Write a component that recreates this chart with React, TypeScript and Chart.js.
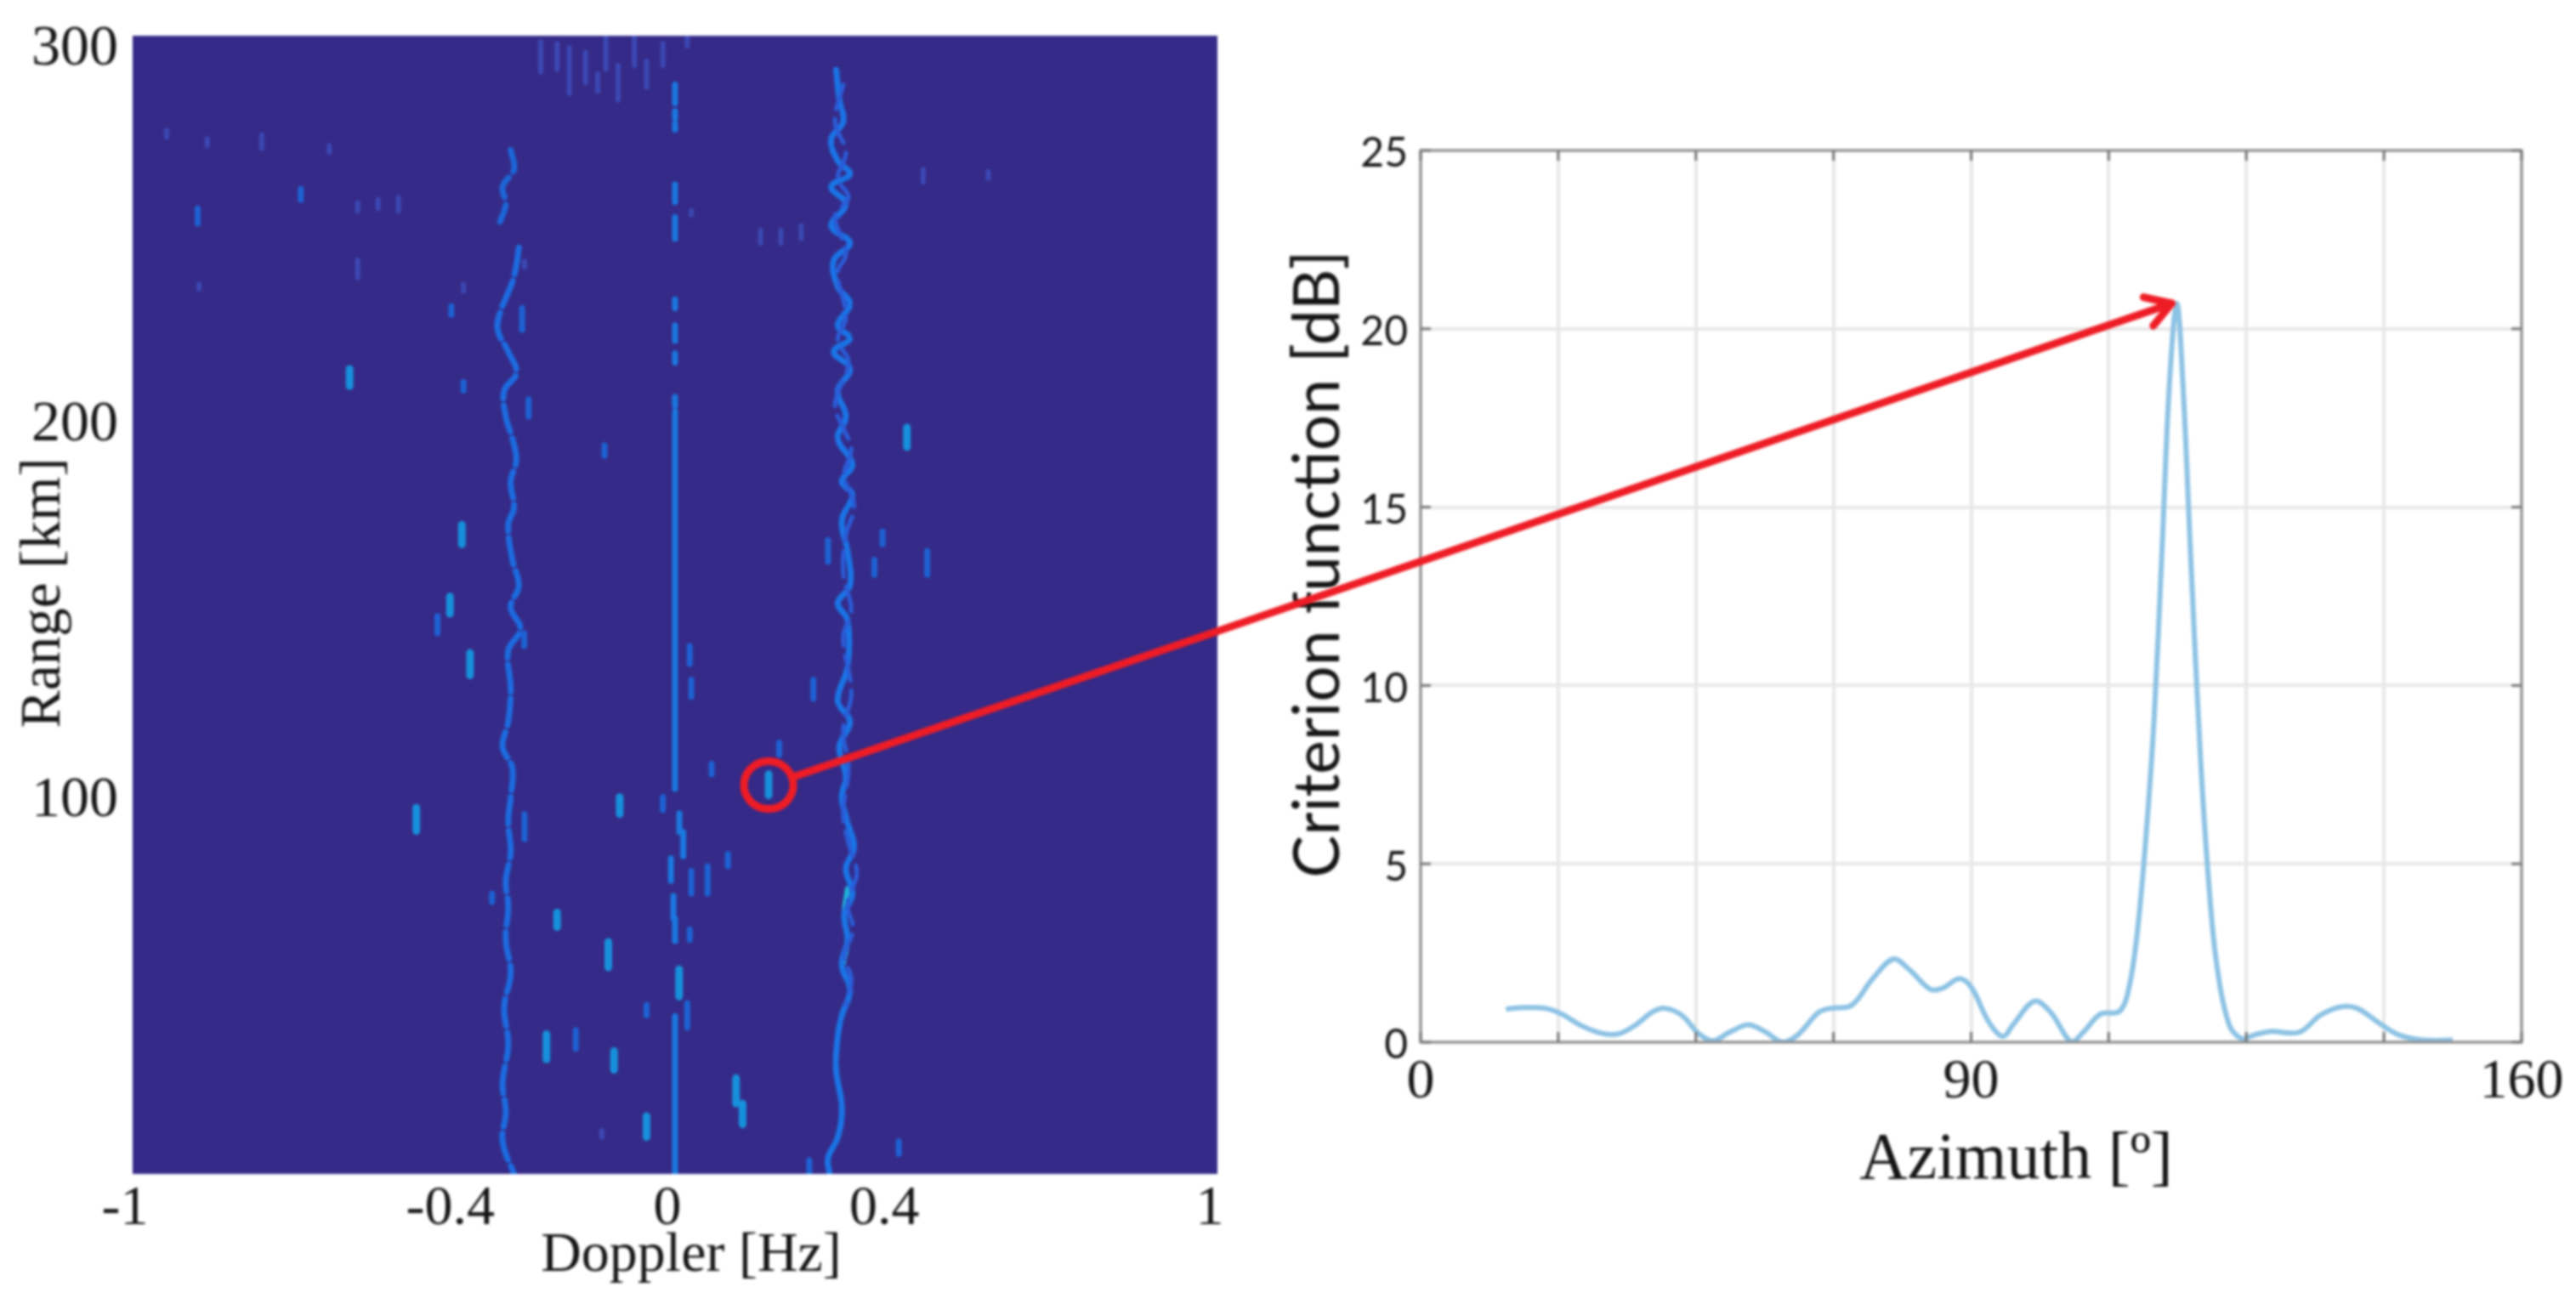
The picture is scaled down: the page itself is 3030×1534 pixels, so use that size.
import React, { useEffect, useRef } from "react";
import { Chart, registerables } from "chart.js";

Chart.register(...registerables);

/* ---------- left panel: range / Doppler map ---------- */
const dopplerTicks = [-1, -0.4, 0, 0.4, 1];
const rangeTicks = [100, 200, 300];

type Streak = [number, number, number];

const positiveRidge: [number, number][] = [
  [0.297, 293.9], [0.303, 285.9], [0.31, 280.1], [0.288, 275.5], [0.3, 269.7], [0.3225, 266.2], [0.288, 262.8],
  [0.315, 258.2], [0.288, 252.4], [0.3225, 247.8], [0.2925, 243.2], [0.3, 236.2], [0.3225, 231.6], [0.3, 225.9],
  [0.3225, 222.4], [0.2925, 218.9], [0.3225, 214.3], [0.3, 208.5], [0.315, 201.6], [0.3, 195.8], [0.327, 188.9],
  [0.3075, 184.3], [0.327, 180.8], [0.3075, 173.9], [0.318, 165.8], [0.3225, 156.6], [0.3, 152], [0.318, 147.4],
  [0.318, 135], [0.3, 126], [0.3225, 120.4], [0.303, 113.7], [0.315, 105.9], [0.3075, 100.3], [0.318, 93.6],
  [0.33, 86.9], [0.315, 81.3], [0.327, 74.6], [0.312, 69], [0.318, 62.3], [0.3075, 55.6], [0.3225, 48.9],
  [0.3075, 42.2], [0.3, 36.6], [0.297, 27.7], [0.3075, 17.6], [0.3, 9.8], [0.282, 4.2], [0.285, 0],
];
const positiveRidgeStrand: [number, number][] = [
  [0.31, 290], [0.295, 280], [0.315, 272], [0.3, 265], [0.32, 260], [0.295, 255], [0.315, 245], [0.3, 240],
  [0.315, 228], [0.3, 222], [0.32, 216], [0.295, 205], [0.312, 198], [0.325, 193], [0.312, 186], [0.33, 178],
  [0.315, 170], [0.31, 160], [0.325, 150], [0.31, 143], [0.325, 128], [0.31, 118], [0.32, 108], [0.31, 96],
  [0.32, 88], [0.335, 80], [0.318, 72], [0.328, 65], [0.312, 58], [0.325, 52], [0.315, 45],
];
const positiveRidgeBright: [number, number][] = [
  [0.318, 76], [0.312, 69], [0.318, 62.3], [0.31, 56],
];
const negativeRidgeUpper: [number, number][] = [
  [-0.303, 272.6], [-0.297, 267.4], [-0.318, 262.8], [-0.312, 258.2], [-0.3225, 253.5],
];
const negativeRidgeLower: [number, number][] = [
  [-0.288, 246.6], [-0.2925, 242], [-0.3, 237.4], [-0.3225, 229.3], [-0.327, 224.7], [-0.3075, 218.9],
  [-0.2925, 213.2], [-0.315, 208.5], [-0.312, 201.6], [-0.3, 195.8], [-0.2925, 190.1], [-0.303, 184.3],
  [-0.297, 177.4], [-0.3075, 172.8], [-0.3, 163.5], [-0.288, 156.6], [-0.303, 150.8], [-0.285, 145.1],
  [-0.3075, 139.3], [-0.303, 129.3], [-0.3075, 120.4], [-0.318, 113.7], [-0.3, 108.1], [-0.303, 100.3],
  [-0.3075, 93.6], [-0.303, 85.8], [-0.312, 78], [-0.3075, 71.2], [-0.312, 62.3], [-0.303, 53.4],
  [-0.315, 44.4], [-0.3075, 34.4], [-0.318, 24.3], [-0.312, 16.5], [-0.318, 8.7], [-0.297, 0],
];
const zeroLineBase: Streak[] = [
  [0, 290, 285], [0, 283, 281], [0, 279.5, 278], [0, 263.4, 258.7], [0, 254.7, 249], [0, 232.8, 230.5],
  [0, 225.9, 221.8], [0, 218.4, 216], [0, 206.8, 204.5], [0, 203, 102.5], [0.008, 96, 91], [0.015, 91, 84.6],
  [-0.0075, 84, 78], [-0.003, 74, 68], [0, 68, 62], [0.0075, 54.5, 47.2], [0, 42, 0],
];
const zeroLineCore: Streak[] = [
  [0, 195, 104], [0.015, 90, 85], [0, 40, 0],
];
const brightBlobs: Streak[] = [
  [-0.6, 214.3, 209.7], [0.4275, 198.7, 193.5], [0.1725, 106.4, 100.8], [-0.393, 172.8, 167.6], [-0.415, 153.7, 149.1],
  [-0.378, 138.7, 132.7], [-0.102, 100.3, 95.8], [-0.477, 97.5, 91.3], [-0.2175, 69.6, 65.7], [-0.123, 61.8, 55],
  [-0.237, 37.2, 30.5], [-0.1125, 32.7, 27.7], [0.1125, 25.5, 18.7], [0.1245, 18.7, 13.2], [-0.0525, 15.4, 9.8],
  [0.0075, 54.5, 47.2],
];
const mediumBlobs: Streak[] = [
  [-0.69, 262.2, 259.3], [-0.88, 257, 253], [-0.4125, 231, 228.7], [-0.39, 210.8, 208.5], [-0.282, 230.5, 224.7],
  [-0.13, 194, 191.2], [0.3825, 171, 167.6], [0.3675, 163.5, 159.5], [0.465, 165.8, 159.5], [0.282, 168.7, 163],
  [-0.438, 148.5, 143.9], [0.027, 140.5, 135.8], [0.03, 131.6, 127], [-0.278, 143.9, 140.5], [0.255, 131.6, 126.5],
  [0.192, 114.8, 111.5], [0.0675, 109.2, 106.4], [-0.0225, 100.3, 96.9], [-0.2775, 95.8, 89.1], [0.0975, 85.2, 81.9],
  [0.03, 80.7, 74.6], [0.06, 81.9, 74.6], [-0.3375, 74.6, 72.4], [0.027, 65.1, 62.3], [-0.0525, 45, 42.2],
  [0.0225, 45.5, 38.9], [-0.183, 38.3, 33.3], [0.2475, 3.7, 0], [0.4125, 8.7, 5.3], [-0.27, 206.2, 201.6],
];
const dimBlobs: Streak[] = [
  [-0.762, 276.6, 273], [-0.6375, 273.7, 272], [-0.51, 259.9, 256.4], [-0.5475, 259.3, 257], [-0.585, 258.5, 256.4],
  [-0.2475, 301.4, 293.4], [-0.2175, 300.9, 294], [-0.195, 299.7, 287.6], [-0.165, 298.6, 290.5], [-0.1275, 302.6, 294],
  [-0.105, 295.1, 285.9], [-0.075, 303, 295], [-0.0525, 296.2, 289.3], [-0.0225, 300.9, 295.1], [0.0225, 302.6, 300.3],
  [-0.1425, 292.8, 288.2], [0.4575, 267.4, 264], [0.5775, 266.8, 265], [0.1575, 251.2, 247.8], [0.195, 251.2, 247.8],
  [0.2325, 252.4, 249], [0.03, 256.4, 255.3], [-0.9375, 277.8, 276], [-0.8625, 275.5, 273.7], [-0.8775, 236.8, 235.6],
  [-0.39, 236.8, 235], [-0.585, 243.2, 238.6], [-0.2775, 243, 241.4], [-0.135, 11.5, 9.8],
];

/* ---------- right panel: criterion function ---------- */
const azimuthTicks = [0, 20, 40, 60, 80, 100, 120, 140, 160];
const azimuthTickLabels = ["0", "", "", "", "90", "", "", "", "160"];
const azimuth = [
  12.4, 15.1, 18.1, 20.5, 23.5, 26.5, 28.9, 31.3, 33.7, 35.5, 38, 40.4, 42.5, 44.9, 47.6, 50, 52.6, 54.8, 57.8, 59.6,
  62.6, 65.7, 68.7, 71.1, 74.1, 75.9, 78.3, 80.1, 82.5, 84.6, 86.1, 89.2, 91.6, 94.6, 96.4, 98.8, 101.6, 103, 104.2,
  105.4, 106.6, 107.8, 108.8, 109.9, 110.8, 112, 113.3, 114.5, 115.7, 117.5, 119.3, 121.1, 123.5, 127.7, 130.7, 133.7,
  136.1, 139.2, 142.2, 145.8, 150,
];
const criterion = [
  0.93, 0.97, 0.95, 0.79, 0.45, 0.24, 0.24, 0.49, 0.85, 0.95, 0.75, 0.24, 0.04, 0.28, 0.49, 0.3, 0, 0.2, 0.83, 0.95,
  1.03, 1.78, 2.33, 2.02, 1.48, 1.52, 1.78, 1.52, 0.59, 0.16, 0.49, 1.15, 0.83, 0, 0.3, 0.79, 0.87, 1.58, 3.16, 5.73,
  9.09, 14.03, 18.38, 20.71, 18.38, 13.24, 8.1, 4.55, 2.17, 0.49, 0.1, 0.2, 0.3, 0.28, 0.75, 0.99, 0.95, 0.55, 0.2,
  0.06, 0.06,
];

/* ---------- annotation anchors, in data units ---------- */
const markedCell = { doppler: 0.1725, range: 103.5 };
const markedPeak = { azimuth: 109.9, criterion: 20.71 };

const SERIF = "'Liberation Serif', serif";
const SANS = "Lato, sans-serif";
const INK = "#141414";
const MAP_BG = "#352a87";
const RED = "#ee1c25";

const streakPoints = (list: Streak[]) =>
  list.flatMap(([d, a, b]) => [{ x: d, y: a }, { x: d, y: b }, { x: d, y: NaN }]);
const ridgePoints = (list: [number, number][]) => list.map(([x, y]) => ({ x, y }));

const settleScale = (scale: any, dx: number, dy: number) => {
  scale.paddingTop = 0;
  scale.paddingBottom = 0;
  scale.paddingLeft = 0;
  scale.paddingRight = 0;
  const proto = Object.getPrototypeOf(scale).drawTitle;
  scale.drawTitle = function () {
    const c = this.ctx;
    c.save();
    c.translate(dx, dy);
    proto.call(this);
    c.restore();
  };
};

const mapBackground = {
  id: "mapBackground",
  beforeDatasetsDraw(chart: any) {
    const { ctx, chartArea: a } = chart;
    ctx.save();
    ctx.fillStyle = MAP_BG;
    ctx.fillRect(a.left, a.top, a.right - a.left, a.bottom - a.top);
    ctx.restore();
  },
};

const plotFrame = {
  id: "plotFrame",
  afterDatasetsDraw(chart: any) {
    const { ctx, chartArea: a, scales } = chart;
    ctx.save();
    ctx.strokeStyle = "#8a8a8a";
    ctx.lineWidth = 3;
    ctx.strokeRect(a.left, a.top, a.right - a.left, a.bottom - a.top);
    ctx.strokeStyle = "#777";
    ctx.beginPath();
    scales.x.ticks.forEach((t: any) => {
      const p = scales.x.getPixelForValue(t.value);
      ctx.moveTo(p, a.bottom);
      ctx.lineTo(p, a.bottom - 12);
      ctx.moveTo(p, a.top);
      ctx.lineTo(p, a.top + 12);
    });
    scales.y.ticks.forEach((t: any) => {
      const p = scales.y.getPixelForValue(t.value);
      ctx.moveTo(a.left, p);
      ctx.lineTo(a.left + 12, p);
      ctx.moveTo(a.right, p);
      ctx.lineTo(a.right - 12, p);
    });
    ctx.stroke();
    ctx.restore();
  },
};

const LEFT_BOX = { left: 0, top: 0, width: 1500, height: 1534 };
const RIGHT_BOX = { left: 1500, top: 0, width: 1530, height: 1534 };

const blur = "blur(1.5px)";

export default function App() {
  const leftRef = useRef<HTMLCanvasElement>(null);
  const rightRef = useRef<HTMLCanvasElement>(null);
  const overlayRef = useRef<HTMLCanvasElement>(null);

  useEffect(() => {
    const streak = (data: any[], color: string, width: number, tension = 0, dash: number[] = []) => ({
      data,
      showLine: true,
      spanGaps: false,
      borderColor: color,
      borderWidth: width,
      borderCapStyle: "round",
      borderJoinStyle: "round",
      borderDash: dash,
      pointRadius: 0,
      tension,
    });

    const left = new Chart(leftRef.current!, {
      type: "scatter",
      data: {
        datasets: [
          streak(streakPoints(dimBlobs), "#3c48b4", 6),
          streak(ridgePoints(negativeRidgeUpper), "#1c66d8", 7, 0.4, [26, 9]),
          streak(ridgePoints(negativeRidgeLower), "#1c6be0", 7, 0.4, [32, 8]),
          streak(ridgePoints(positiveRidgeStrand), "#2a5cd8", 5, 0.4, [30, 12]),
          streak(ridgePoints(positiveRidge), "#1a74e6", 7, 0.4, [44, 5]),
          streak(ridgePoints(positiveRidgeBright), "#22b4d8", 6, 0.4),
          streak(streakPoints(mediumBlobs), "#1d62d4", 7),
          streak(streakPoints(brightBlobs), "#1790dc", 9),
          streak(streakPoints(zeroLineBase), "#1a78e0", 7),
          streak(streakPoints(zeroLineCore), "#4fd0a8", 3),
        ] as any,
      },
      options: {
        responsive: false,
        animation: false,
        devicePixelRatio: 1,
        layout: { padding: { top: 42, right: 68, left: 0, bottom: 0 } },
        plugins: { legend: { display: false }, tooltip: { enabled: false } },
        scales: {
          x: {
            type: "linear",
            min: -1,
            max: 1,
            afterFit: (s: any) => {
              s.height = 153;
              settleScale(s, 19, 0);
            },
            afterBuildTicks: (s: any) => {
              s.ticks = dopplerTicks.map((value) => ({ value }));
            },
            grid: { display: false, drawTicks: false },
            border: { display: false },
            ticks: {
              font: { family: SERIF, size: 66 },
              color: INK,
              padding: 2,
              labelOffset: -9,
              autoSkip: false,
              maxRotation: 0,
              callback: (v: any) => String(v),
            },
            title: {
              display: true,
              text: "Doppler [Hz]",
              color: INK,
              font: { family: SERIF, size: 66 },
              padding: { top: 0, bottom: 17 },
            },
          },
          y: {
            type: "linear",
            min: 0,
            max: 303,
            afterFit: (s: any) => {
              s.width = 156;
              settleScale(s, 0, -14);
            },
            afterBuildTicks: (s: any) => {
              s.ticks = rangeTicks.map((value) => ({ value }));
            },
            grid: { display: false, drawTicks: false },
            border: { display: false },
            ticks: {
              font: { family: SERIF, size: 68 },
              color: INK,
              padding: 17,
              labelOffset: 3,
              autoSkip: false,
              callback: (v: any) => String(v),
            },
            title: {
              display: true,
              text: "Range [km]",
              color: INK,
              font: { family: SERIF, size: 67 },
              padding: { top: 12, bottom: 0 },
            },
          },
        },
      } as any,
      plugins: [mapBackground],
    });

    const right = new Chart(rightRef.current!, {
      type: "line",
      data: {
        datasets: [
          {
            data: azimuth.map((x, i) => ({ x, y: criterion[i] })),
            borderColor: "#8cc2e4",
            borderWidth: 6,
            pointRadius: 0,
            tension: 0.35,
          },
        ],
      },
      options: {
        responsive: false,
        animation: false,
        devicePixelRatio: 1,
        layout: { padding: { top: 177, right: 64, left: 0, bottom: 0 } },
        plugins: { legend: { display: false }, tooltip: { enabled: false } },
        scales: {
          x: {
            type: "linear",
            min: 0,
            max: 160,
            afterFit: (s: any) => {
              s.height = 308;
              settleScale(s, 53, 0);
            },
            afterBuildTicks: (s: any) => {
              s.ticks = azimuthTicks.map((value) => ({ value }));
            },
            grid: { color: "#e8e8e8", lineWidth: 4, drawTicks: false },
            border: { display: false },
            ticks: {
              font: { family: SERIF, size: 66 },
              color: INK,
              padding: 8,
              autoSkip: false,
              maxRotation: 0,
              callback: (v: any) => azimuthTickLabels[azimuthTicks.indexOf(Number(v))] ?? "",
            },
            title: {
              display: true,
              text: "Azimuth [º]",
              color: INK,
              font: { family: SERIF, size: 78 },
              padding: { top: 0, bottom: 122 },
            },
          },
          y: {
            type: "linear",
            min: 0,
            max: 25,
            afterFit: (s: any) => {
              s.width = 171;
              settleScale(s, 0, -38);
            },
            grid: { color: "#e8e8e8", lineWidth: 4, drawTicks: false },
            border: { display: false },
            ticks: {
              stepSize: 5,
              font: { family: SANS, size: 48 },
              color: INK,
              padding: 15,
              labelOffset: 4,
            },
            title: {
              display: true,
              text: "Criterion function [dB]",
              color: INK,
              font: { family: SANS, size: 75 },
              padding: { top: 6, bottom: 0 },
            },
          },
        },
      } as any,
      plugins: [plotFrame],
    });

    /* red circle and arrow joining the two panels, anchored through the scales */
    const ctx = overlayRef.current!.getContext("2d")!;
    const cx = LEFT_BOX.left + left.scales.x.getPixelForValue(markedCell.doppler);
    const cy = LEFT_BOX.top + left.scales.y.getPixelForValue(markedCell.range);
    const tx = RIGHT_BOX.left + right.scales.x.getPixelForValue(markedPeak.azimuth) - 6;
    const ty = RIGHT_BOX.top + right.scales.y.getPixelForValue(markedPeak.criterion);
    const rx = 29;
    const ry = 28;
    const angle = Math.atan2(ty - cy, tx - cx);
    ctx.clearRect(0, 0, 3030, 1534);
    ctx.strokeStyle = RED;
    ctx.lineWidth = 9;
    ctx.lineCap = "round";
    ctx.lineJoin = "round";
    ctx.beginPath();
    ctx.ellipse(cx, cy, rx, ry, 0, 0, Math.PI * 2);
    ctx.stroke();
    ctx.beginPath();
    ctx.moveTo(cx + rx * Math.cos(angle), cy + ry * Math.sin(angle));
    ctx.lineTo(tx, ty);
    ctx.stroke();
    const head = 34;
    ctx.beginPath();
    ctx.moveTo(tx - head * Math.cos(angle - 0.55), ty - head * Math.sin(angle - 0.55));
    ctx.lineTo(tx, ty);
    ctx.lineTo(tx - head * Math.cos(angle + 0.55), ty - head * Math.sin(angle + 0.55));
    ctx.stroke();

    return () => {
      left.destroy();
      right.destroy();
    };
  }, []);

  const place = (b: typeof LEFT_BOX, z = 0): React.CSSProperties => ({
    position: "absolute",
    left: b.left,
    top: b.top,
    width: b.width,
    height: b.height,
    zIndex: z,
    filter: blur,
  });

  return (
    <div style={{ position: "absolute", left: 0, top: 0, width: 3030, height: 1534, background: "#fff", overflow: "hidden" }}>
      <canvas ref={leftRef} width={LEFT_BOX.width} height={LEFT_BOX.height} style={place(LEFT_BOX)} />
      <canvas ref={rightRef} width={RIGHT_BOX.width} height={RIGHT_BOX.height} style={place(RIGHT_BOX)} />
      <canvas
        ref={overlayRef}
        width={3030}
        height={1534}
        style={{ ...place({ left: 0, top: 0, width: 3030, height: 1534 }, 2), pointerEvents: "none" }}
      />
    </div>
  );
}
